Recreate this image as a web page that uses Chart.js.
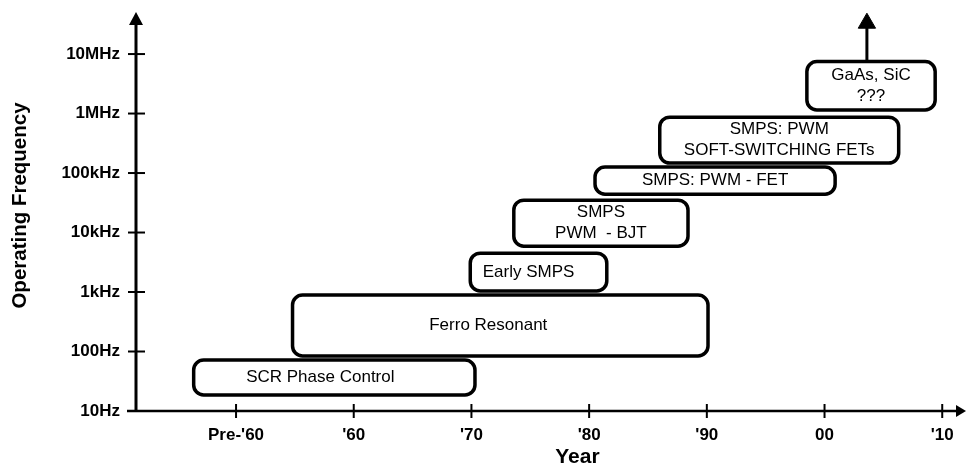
<!DOCTYPE html>
<html>
<head>
<meta charset="utf-8">
<script src="https://cdn.jsdelivr.net/npm/chart.js@4.4.1/dist/chart.umd.min.js"></script>
<style>
  html, body { margin: 0; padding: 0; background: #ffffff; }
  #wrap { width: 966px; height: 464px; }
</style>
</head>
<body>
<div id="wrap"><canvas id="freqChart"></canvas></div>
<script>
// axis ticks
const tickYears = [1950, 1960, 1970, 1980, 1990, 2000, 2010];
const yearLabels = ["Pre-'60", "'60", "'70", "'80", "'90", "00", "'10"];
const freqTicks = [10, 100, 1e3, 1e4, 1e5, 1e6, 1e7];
const freqLabels = ["10Hz", "100Hz", "1kHz", "10kHz", "100kHz", "1MHz", "10MHz"];

// technology boxes: year span and frequency span
const boxLabels = [
    ["SCR Phase Control"],
    ["Ferro Resonant"],
    ["Early SMPS"],
    ["SMPS", "PWM  - BJT"],
    ["SMPS: PWM - FET"],
    ["SMPS: PWM", "SOFT-SWITCHING FETs"],
    ["GaAs, SiC", "???"]
];
const boxStartYear = [1946.4, 1954.8, 1969.9, 1973.6, 1980.5, 1986.0, 1998.5];
const boxEndYear   = [1970.3, 1990.1, 1981.5, 1988.4, 2000.9, 2006.3, 2009.4];
const boxLowHz  = [18.6, 84, 1040, 5900, 44000, 147000, 1150000];
const boxHighHz = [72, 890, 4500, 35000, 126000, 870000, 7500000];

// "going higher" arrow above the last box
const arrowYear = [2003.6, 2003.6];
const arrowHz = [7.5e6, 3.3e7];

const ink = "#000000";
const fontFamily = "'Liberation Sans', Arial, sans-serif";
// captions of the three lower boxes sit a little left of centre
const captionShift = [-14, -12, -10, 0, 0, 0, 0];

const diagramPlugin = {
    id: "diagram",
    beforeDatasetsDraw(chart) {
        const { ctx, chartArea, scales: { x, y } } = chart;
        ctx.save();
        ctx.strokeStyle = ink;
        ctx.fillStyle = ink;

        // y axis with arrow head
        const yTip = y.getPixelForValue(5.1e7);
        ctx.lineWidth = 3;
        ctx.beginPath();
        ctx.moveTo(chartArea.left, chartArea.bottom);
        ctx.lineTo(chartArea.left, yTip + 10);
        ctx.stroke();
        ctx.beginPath();
        ctx.moveTo(chartArea.left, yTip);
        ctx.lineTo(chartArea.left - 7, yTip + 13);
        ctx.lineTo(chartArea.left + 7, yTip + 13);
        ctx.closePath();
        ctx.fill();

        // x axis with arrow head
        const xTip = chart.width;
        ctx.lineWidth = 2.5;
        ctx.beginPath();
        ctx.moveTo(chartArea.left - 9, chartArea.bottom);
        ctx.lineTo(xTip - 8, chartArea.bottom);
        ctx.stroke();
        ctx.beginPath();
        ctx.moveTo(xTip, chartArea.bottom);
        ctx.lineTo(xTip - 10, chartArea.bottom - 6);
        ctx.lineTo(xTip - 10, chartArea.bottom + 6);
        ctx.closePath();
        ctx.fill();

        // tick marks crossing the axes
        ctx.lineWidth = 2;
        freqTicks.forEach(function (v) {
            const py = y.getPixelForValue(v);
            ctx.beginPath();
            ctx.moveTo(chartArea.left - 8, py);
            ctx.lineTo(chartArea.left + 9, py);
            ctx.stroke();
        });
        tickYears.forEach(function (v) {
            const px = x.getPixelForValue(v);
            ctx.beginPath();
            ctx.moveTo(px, chartArea.bottom - 7);
            ctx.lineTo(px, chartArea.bottom + 7);
            ctx.stroke();
        });

        // rounded boxes with their captions
        boxLabels.forEach(function (lines, i) {
            const left = x.getPixelForValue(boxStartYear[i]);
            const right = x.getPixelForValue(boxEndYear[i]);
            const top = y.getPixelForValue(boxHighHz[i]);
            const bottom = y.getPixelForValue(boxLowHz[i]);
            ctx.beginPath();
            ctx.roundRect(left, top, right - left, bottom - top, 10);
            ctx.fillStyle = "#ffffff";
            ctx.fill();
            ctx.lineWidth = 3.5;
            ctx.strokeStyle = ink;
            ctx.stroke();

            ctx.fillStyle = ink;
            ctx.font = "17px " + fontFamily;
            ctx.textAlign = "center";
            ctx.textBaseline = "middle";
            const lh = 21;
            const cx = (left + right) / 2 + captionShift[i];
            const cy = (top + bottom) / 2 - (lines.length - 1) * lh / 2;
            lines.forEach(function (t, k) {
                ctx.fillText(t, cx, cy + k * lh);
            });
        });

        // x axis title
        ctx.font = "bold 21px " + fontFamily;
        ctx.textAlign = "center";
        ctx.textBaseline = "alphabetic";
        ctx.fillText("Year", x.getPixelForValue(1979), chart.height - 1);
        ctx.restore();
    }
};

new Chart(document.getElementById("freqChart"), {
    type: "scatter",
    data: {
        datasets: [{
            data: arrowYear.map(function (yr, i) { return { x: yr, y: arrowHz[i] }; }),
            showLine: true,
            borderColor: ink,
            borderWidth: 3,
            pointStyle: "triangle",
            pointRadius: [0, 10],
            pointBackgroundColor: ink,
            pointBorderColor: ink,
            pointBorderWidth: 1
        }]
    },
    options: {
        responsive: true,
        maintainAspectRatio: false,
        animation: false,
        events: [],
        layout: { autoPadding: false, padding: { top: 0, right: 12, bottom: 0, left: 0 } },
        plugins: {
            legend: { display: false },
            tooltip: { enabled: false }
        },
        scales: {
            x: {
                type: "linear",
                min: 1941.5,
                max: 2011,
                grid: { display: false, drawTicks: false },
                border: { display: false },
                afterBuildTicks: function (scale) {
                    scale.ticks = tickYears.map(function (v) { return { value: v }; });
                },
                afterFit: function (scale) {
                    scale.height = 53;
                    scale.paddingLeft = 0;
                    scale.paddingRight = 0;
                },
                ticks: {
                    padding: 14,
                    color: ink,
                    maxRotation: 0,
                    autoSkip: false,
                    font: { family: fontFamily, size: 17, weight: "bold" },
                    callback: function (value) {
                        return yearLabels[tickYears.indexOf(value)];
                    }
                }
            },
            y: {
                type: "logarithmic",
                min: 10,
                max: 8.1e7,
                grid: { display: false, drawTicks: false },
                border: { display: false },
                afterBuildTicks: function (scale) {
                    scale.ticks = freqTicks.map(function (v) { return { value: v }; });
                },
                afterFit: function (scale) {
                    scale.width = 136;
                    scale.paddingTop = 0;
                    scale.paddingBottom = 0;
                },
                title: {
                    display: true,
                    text: "Operating Frequency",
                    color: ink,
                    padding: { top: 10, bottom: 0 },
                    font: { family: fontFamily, size: 20.5, weight: "bold", lineHeight: 1 }
                },
                ticks: {
                    padding: 16,
                    color: ink,
                    autoSkip: false,
                    font: { family: fontFamily, size: 17, weight: "bold" },
                    callback: function (value) {
                        const i = freqTicks.indexOf(value);
                        return i >= 0 ? freqLabels[i] : "";
                    }
                }
            }
        }
    },
    plugins: [diagramPlugin]
});
</script>
</body>
</html>
